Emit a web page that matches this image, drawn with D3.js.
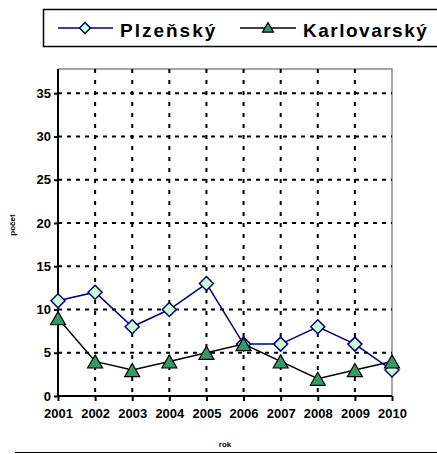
<!DOCTYPE html>
<html>
<head>
<meta charset="utf-8">
<script src="https://cdn.jsdelivr.net/npm/d3@7"></script>
<style>
  body { margin: 0; background: #fff; }
  text { font-family: Arial, "Liberation Sans", sans-serif; }
</style>
</head>
<body>
<div id="chart"></div>
<script>
const years = ['2001', '2002', '2003', '2004', '2005', '2006', '2007', '2008', '2009', '2010']
const plzensky = [11, 12, 8, 10, 13, 6, 6, 8, 6, 3]
const karlovarsky = [9, 4, 3, 4, 5, 6, 4, 2, 3, 4]
const yTicks = [0, 5, 10, 15, 20, 25, 30, 35]

const W = 437, H = 454
const plot = { left: 58, right: 392, top: 69, bottom: 396 }

const svg = d3.select('#chart').append('svg').attr('width', W).attr('height', H)

const x = d3.scalePoint().domain(years).range([plot.left, plot.right])
const y = d3.scaleLinear().domain([0, 37.8]).range([plot.bottom, plot.top])

// frame top + right (grey)
svg.append('path')
  .attr('d', `M${plot.left},${plot.top}H${plot.right}V${plot.bottom}`)
  .attr('fill', 'none').attr('stroke', '#888').attr('stroke-width', 1.5)

// grid
const grid = svg.append('g')
grid.selectAll('line.h').data(yTicks.filter(d => d > 0)).join('line')
  .attr('x1', plot.left).attr('x2', plot.right)
  .attr('y1', d => y(d)).attr('y2', d => y(d))
  .attr('stroke', '#000').attr('stroke-width', 2).attr('stroke-dasharray', '4,5')
grid.selectAll('line.v').data(years.slice(1, -1)).join('line')
  .attr('y1', plot.top).attr('y2', plot.bottom)
  .attr('x1', d => x(d)).attr('x2', d => x(d))
  .attr('stroke', '#000').attr('stroke-width', 2).attr('stroke-dasharray', '4,7')

// axes
const yAxis = svg.append('g').attr('transform', `translate(${plot.left},0)`)
  .call(d3.axisLeft(y).tickValues(yTicks).tickSize(4).tickPadding(3))
const xAxis = svg.append('g').attr('transform', `translate(0,${plot.bottom})`)
  .call(d3.axisBottom(x).tickSize(5).tickPadding(8))
;[yAxis, xAxis].forEach(a => {
  a.select('.domain').attr('stroke', '#000').attr('stroke-width', 2)
  a.selectAll('.tick line').attr('stroke', '#000').attr('stroke-width', 2)
  a.selectAll('.tick text').attr('fill', '#000').style('font-size', '13px').style('font-weight', 'bold')
})
yAxis.select('.domain').attr('d', `M0,${plot.top}V${plot.bottom}`)
xAxis.select('.domain').attr('d', `M${plot.left},0H${plot.right}`)

// axis titles
svg.append('text').attr('transform', `translate(15,225) rotate(-90)`)
  .attr('text-anchor', 'middle').style('font-size', '8px').style('font-weight', 'bold').text('počet')
svg.append('text').attr('x', 225).attr('y', 447)
  .attr('text-anchor', 'middle').style('font-size', '8px').style('font-weight', 'bold').text('rok')
svg.append('line').attr('x1', 15).attr('x2', W).attr('y1', 452.5).attr('y2', 452.5)
  .attr('stroke', '#000').attr('stroke-width', 1)

const line = d3.line().x((d, i) => x(years[i])).y(d => y(d))
const diamond = s => `M0,${-s}L${s},0L0,${s}L${-s},0Z`
const triangle = s => `M0,${-s}L${s},${s * 0.75}L${-s},${s * 0.75}Z`

// Karlovarsky
svg.append('path').datum(karlovarsky).attr('d', line)
  .attr('fill', 'none').attr('stroke', '#000').attr('stroke-width', 1.5)
// Plzensky
svg.append('path').datum(plzensky).attr('d', line)
  .attr('fill', 'none').attr('stroke', '#000080').attr('stroke-width', 1.5)

svg.append('g').selectAll('path').data(plzensky).join('path')
  .attr('transform', (d, i) => `translate(${x(years[i])},${y(d)})`)
  .attr('d', diamond(7)).attr('fill', '#ccffcc').attr('stroke', '#000080').attr('stroke-width', 1.5)
svg.append('g').selectAll('path').data(karlovarsky).join('path')
  .attr('transform', (d, i) => `translate(${x(years[i])},${y(d) + 1})`)
  .attr('d', triangle(7.5)).attr('fill', '#339966').attr('stroke', '#000').attr('stroke-width', 1.2)

// legend
const lg = svg.append('g')
lg.append('rect').attr('x', 43.5).attr('y', 9.5).attr('width', 400).attr('height', 37)
  .attr('fill', '#fff').attr('stroke', '#000').attr('stroke-width', 1.5)
lg.append('line').attr('x1', 58).attr('x2', 113).attr('y1', 28).attr('y2', 28)
  .attr('stroke', '#000080').attr('stroke-width', 1.5)
lg.append('path').attr('transform', 'translate(85,28)').attr('d', diamond(5.5))
  .attr('fill', '#ccffcc').attr('stroke', '#000080').attr('stroke-width', 1.5)
lg.append('text').attr('x', 120).attr('y', 36.5).style('font-size', '19px').style('font-weight', 'bold')
  .style('letter-spacing', '2px').text('Plzeňský')
lg.append('line').attr('x1', 240).attr('x2', 296).attr('y1', 28).attr('y2', 28)
  .attr('stroke', '#000').attr('stroke-width', 1.5)
lg.append('path').attr('transform', 'translate(268,28)').attr('d', triangle(5.5))
  .attr('fill', '#339966').attr('stroke', '#000').attr('stroke-width', 1.2)
lg.append('text').attr('x', 303).attr('y', 36.5).style('font-size', '19px').style('font-weight', 'bold')
  .style('letter-spacing', '1.5px').text('Karlovarský')
</script>
</body>
</html>
